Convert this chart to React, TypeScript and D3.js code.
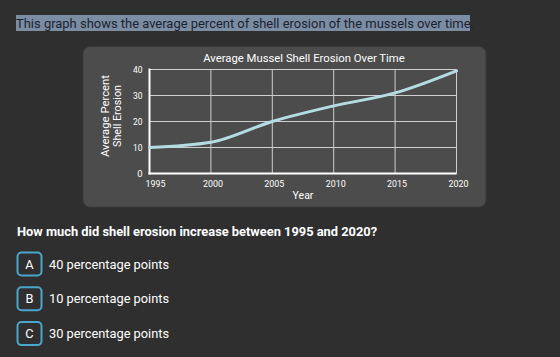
import React from "react";
import * as d3 from "d3";

const years = [1995, 2000, 2005, 2010, 2015, 2020];
const erosion = [10, 12, 20, 26, 31, 39.5];
const yTicks = [0, 10, 20, 30, 40];
const introText = "This graph shows the average percent of shell erosion of the mussels over time.";
const chartTitle = "Average Mussel Shell Erosion Over Time";
const xLabel = "Year";
const yLabelLines = ["Average Percent", "Shell Erosion"];
const yLabelLengths = [82, 62];
const question = "How much did shell erosion increase between 1995 and 2020?";
const optionLetters = ["A", "B", "C"];
const optionTexts = ["40 percentage points", "10 percentage points", "30 percentage points"];

const W = 560;
const H = 357;
const plot = { left: 149.5, right: 456.5, top: 69.5, bottom: 173.5 };

export default function App() {
  const x = d3.scaleLinear().domain([1995, 2020]).range([plot.left, plot.right]);
  const y = d3.scaleLinear().domain([0, 40]).range([plot.bottom, plot.top]);
  const line = d3
    .line<number>()
    .x((_, i) => x(years[i]))
    .y((d) => y(d))
    .curve(d3.curveMonotoneX);
  return (
    <svg
      width={W}
      height={H}
      style={{ position: "absolute", left: 0, top: 0 }}
      fontFamily="Roboto, sans-serif"
    >
      <rect x={0} y={0} width={W} height={H} fill="#2f2f2f" />
      {/* intro text with selection highlight */}
      <rect x={16} y={15} width={454} height={16} fill="#7b8da3" />
      <text x={16} y={27.5} fontSize={13} fill="#1b2230" textLength={458} lengthAdjust="spacingAndGlyphs">
        {introText}
      </text>

      {/* chart panel */}
      <rect x={83} y={46.5} width={403} height={160.5} rx={7} fill="#4c4c4c" stroke="#3a3a3a" strokeWidth={1} />
      <text x={304} y={61.5} fontSize={11.3} fill="#ffffff" textAnchor="middle">
        {chartTitle}
      </text>

      {/* grid */}
      {years.map((yr) => (
        <line key={"vx" + yr} x1={x(yr)} x2={x(yr)} y1={plot.top} y2={plot.bottom} stroke="#cfcfcf" strokeWidth={1} />
      ))}
      {yTicks.map((t) => (
        <line key={"hy" + t} x1={plot.left} x2={plot.right} y1={y(t)} y2={y(t)} stroke="#cfcfcf" strokeWidth={1} />
      ))}
      {/* axes */}
      <line x1={plot.left} x2={plot.left} y1={plot.top - 1} y2={plot.bottom + 1} stroke="#ffffff" strokeWidth={2} />
      <line x1={plot.left - 1} x2={plot.right} y1={plot.bottom} y2={plot.bottom} stroke="#ffffff" strokeWidth={2} />

      {/* y tick labels */}
      {yTicks.map((t) => (
        <text key={"yl" + t} x={142.5} y={y(t) + 3.3} fontSize={9.5} fill="#ffffff" textAnchor="end" textLength={t === 0 ? undefined : 9.5} lengthAdjust="spacingAndGlyphs">
          {t}
        </text>
      ))}
      {/* x tick labels */}
      {years.map((yr, i) => (
        <text
          key={"xl" + yr}
          x={i === 0 ? x(yr) - 4 : x(yr) + 2}
          y={187.3}
          fontSize={9.8}
          fill="#ffffff"
          textAnchor={i === 0 ? "start" : "middle"}
          textLength={20}
          lengthAdjust="spacingAndGlyphs"
        >
          {yr}
        </text>
      ))}
      <text x={303} y={199} fontSize={10.5} fill="#ffffff" textAnchor="middle">
        {xLabel}
      </text>
      {yLabelLines.map((l, i) => (
        <text
          key={l}
          transform={`translate(${109 + i * 12},116) rotate(-90)`}
          fontSize={11}
          fill="#ffffff"
          textAnchor="middle"
          textLength={yLabelLengths[i]}
          lengthAdjust="spacingAndGlyphs"
        >
          {l}
        </text>
      ))}

      {/* data line */}
      <path d={line(erosion) || ""} fill="none" stroke="#b4dde3" strokeWidth={3} strokeLinecap="round" />

      {/* question */}
      <text x={17} y={235.5} fontSize={12.85} fontWeight="bold" fill="#ffffff">
        {question}
      </text>
      {optionLetters.map((l, i) => {
        const top = 252.5 + i * 34.8;
        return (
          <g key={l}>
            <rect x={17.5} y={top} width={24} height={23} rx={4} fill="#2f2f2f" stroke="#4aa6cc" strokeWidth={2} />
            <text x={29.5} y={top + 16} fontSize={12.8} fill="#ffffff" textAnchor="middle">
              {l}
            </text>
            <text x={49} y={top + 16} fontSize={12.8} fill="#ffffff">
              {optionTexts[i]}
            </text>
          </g>
        );
      })}
    </svg>
  );
}
